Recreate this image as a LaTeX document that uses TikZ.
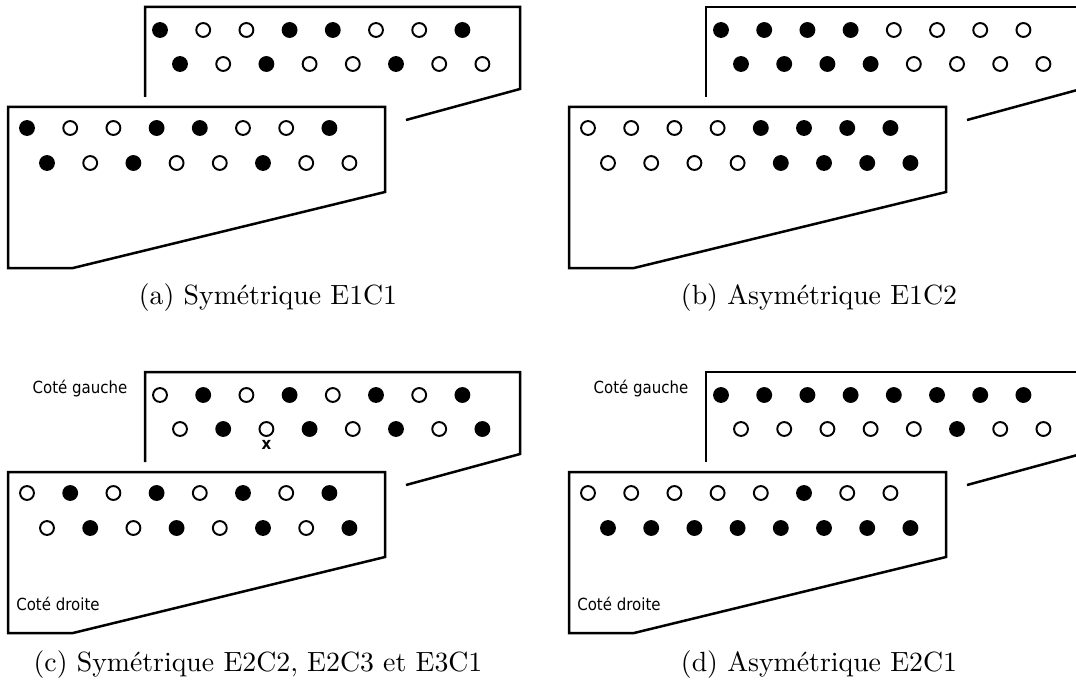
\documentclass[tikz,border=0pt]{standalone}
\usepackage{fontspec}
\usepackage{tikz}
\usetikzlibrary{positioning}
\newfontfamily\etiqfont[FakeStretch=0.9]{DejaVu Sans}
\tikzset{
    contour/.style={line width=0.9pt, line join=miter},
    trou/.style={circle, draw=black, line width=0.7pt, minimum size=5pt, inner sep=0pt, outer sep=0pt},
    etiquette/.style={font=\etiqfont\fontsize{6}{7}\selectfont, inner sep=0pt},
    legende/.style={font=\fontsize{10}{12}\selectfont, inner sep=0pt}
}

\begin{document}
\begin{tikzpicture}[x=0.36pt, y=-0.36pt]
    \useasboundingbox (0,0) rectangle (1076,690);
    \clip (0,0) rectangle (1076,690);

    % (a)
    \begin{scope}
        \draw[contour] (145,97) -- (145,7) -- (520,7) -- (520,89) -- (406,120);
        \draw[contour] (8,107) -- (385,107) -- (385,192) -- (73,268) -- (8,268) -- cycle;
        \foreach \c [count=\i from 0] in {black,white,white,black,black,white,white,black}
            \node[trou, fill=\c] (a-b1-\i) at ({160+43.2*\i},30) {};
        \foreach \c [count=\i from 0] in {black,white,black,white,white,black,white,white}
            \node[trou, fill=\c] (a-b2-\i) at ({180+43.2*\i},64) {};
        \foreach \c [count=\i from 0] in {black,white,white,black,black,white,white,black}
            \node[trou, fill=\c] (a-f1-\i) at ({27+43.2*\i},128) {};
        \foreach \c [count=\i from 0] in {black,white,black,white,white,black,white,white}
            \node[trou, fill=\c] (a-f2-\i) at ({47+43.2*\i},163) {};
        \node[legende] (leg-a) at (268,298) {(a) Symétrique E1C1};
    \end{scope}

    % (b)
    \begin{scope}[shift={(561,0)}]
        \draw[contour] (145,97) -- (145,7) -- (560,7);
        \draw[contour] (520,89) -- (406,120);
        \draw[contour] (8,107) -- (385,107) -- (385,192) -- (73,268) -- (8,268) -- cycle;
        \foreach \c [count=\i from 0] in {black,black,black,black,white,white,white,white}
            \node[trou, fill=\c] (b-b1-\i) at ({160+43.2*\i},30) {};
        \foreach \c [count=\i from 0] in {black,black,black,black,white,white,white,white}
            \node[trou, fill=\c] (b-b2-\i) at ({180+43.2*\i},64) {};
        \foreach \c [count=\i from 0] in {white,white,white,white,black,black,black,black}
            \node[trou, fill=\c] (b-f1-\i) at ({27+43.2*\i},128) {};
        \foreach \c [count=\i from 0] in {white,white,white,white,black,black,black,black}
            \node[trou, fill=\c] (b-f2-\i) at ({47+43.2*\i},163) {};
        \node[legende] (leg-b) at (258,298) {(b) Asymétrique E1C2};
    \end{scope}

    % (c)
    \begin{scope}[shift={(0,365)}]
        \draw[contour] (145,97) -- (145,7) -- (520,7) -- (520,89) -- (406,120);
        \draw[contour] (8,107) -- (385,107) -- (385,192) -- (73,268) -- (8,268) -- cycle;
        \foreach \c [count=\i from 0] in {white,black,white,black,white,black,white,black}
            \node[trou, fill=\c] (c-b1-\i) at ({160+43.2*\i},30) {};
        \foreach \c [count=\i from 0] in {white,black,white,black,white,black,white,black}
            \node[trou, fill=\c] (c-b2-\i) at ({180+43.2*\i},64) {};
        \foreach \c [count=\i from 0] in {white,black,white,black,white,black,white,black}
            \node[trou, fill=\c] (c-f1-\i) at ({27+43.2*\i},128) {};
        \foreach \c [count=\i from 0] in {white,black,white,black,white,black,white,black}
            \node[trou, fill=\c] (c-f2-\i) at ({47+43.2*\i},163) {};
        \node[etiquette, font=\etiqfont\bfseries\fontsize{6}{7}\selectfont, below=1.5pt of c-b2-2] (c-croix) {x};
        \node[etiquette] (c-gauche) at (80,24) {Coté gauche};
        \node[etiquette] (c-droite) at (58,239) {Coté droite};
        \node[legende] (leg-c) at (258,300) {(c) Symétrique E2C2, E2C3 et E3C1};
    \end{scope}

    % (d)
    \begin{scope}[shift={(561,365)}]
        \draw[contour] (145,97) -- (145,7) -- (560,7);
        \draw[contour] (520,89) -- (406,120);
        \draw[contour] (8,107) -- (385,107) -- (385,192) -- (73,268) -- (8,268) -- cycle;
        \foreach \c [count=\i from 0] in {black,black,black,black,black,black,black,black}
            \node[trou, fill=\c] (d-b1-\i) at ({160+43.2*\i},30) {};
        \foreach \c [count=\i from 0] in {white,white,white,white,white,black,white,white}
            \node[trou, fill=\c] (d-b2-\i) at ({180+43.2*\i},64) {};
        \foreach \c [count=\i from 0] in {white,white,white,white,white,black,white,white}
            \node[trou, fill=\c] (d-f1-\i) at ({27+43.2*\i},128) {};
        \foreach \c [count=\i from 0] in {black,black,black,black,black,black,black,black}
            \node[trou, fill=\c] (d-f2-\i) at ({47+43.2*\i},163) {};
        \node[etiquette] (d-gauche) at (80,24) {Coté gauche};
        \node[etiquette] (d-droite) at (58,239) {Coté droite};
        \node[legende] (leg-d) at (258,300) {(d) Asymétrique E2C1};
    \end{scope}
\end{tikzpicture}
\end{document}
